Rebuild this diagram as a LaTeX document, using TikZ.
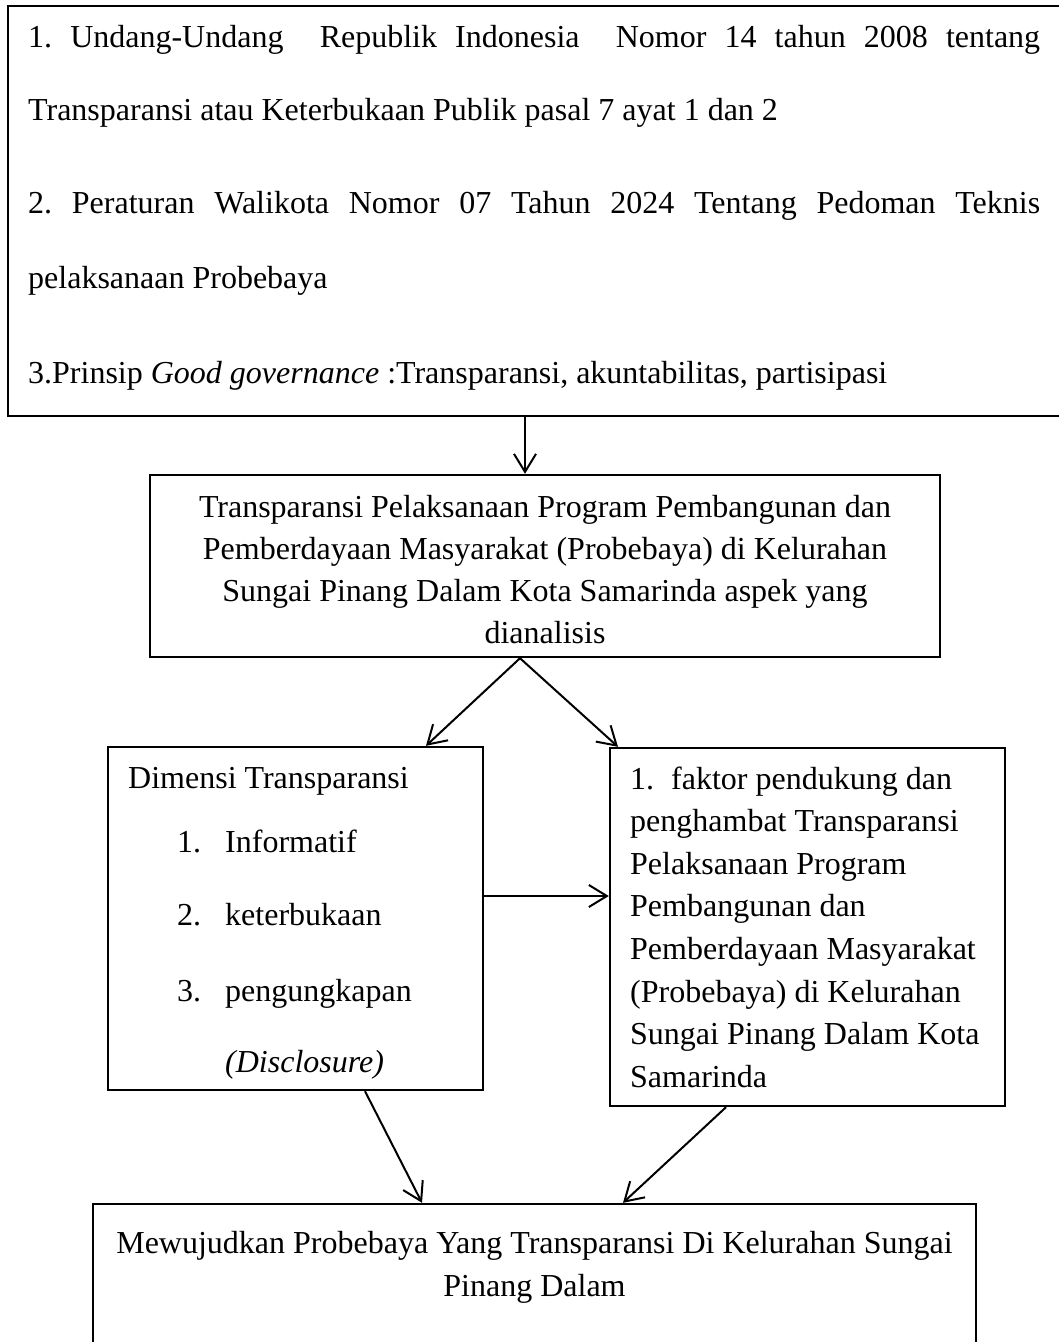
\documentclass[tikz,border=0pt]{standalone}
\usepackage{fontspec}
\setmainfont{Liberation Serif}
\usetikzlibrary{arrows.meta}
\frenchspacing
\begin{document}
\begin{tikzpicture}[x=1pt,y=-1pt,
  every node/.style={font=\fontsize{32}{38}\selectfont\frenchspacing, inner sep=0pt},
  box/.style={draw, line width=2.4pt, rectangle, minimum width=#1},
  arr/.style={line width=2pt, -{Straight Barb[length=18pt,width=22pt,line width=2pt]}},
  lt/.style={anchor=base west},
  ct/.style={anchor=base}]
\useasboundingbox (0,0) rectangle (1059,1342);

% boxes
\node[box=1062pt, minimum height=410pt] (top) at (539,211) {};
\node[box=790pt, minimum height=182pt] (mid) at (545,566) {};
\node[box=375pt, minimum height=343pt] (L) at (295.5,918.5) {};
\node[box=395pt, minimum height=358pt] (R) at (807.5,927) {};
\node[box=883pt, minimum height=156pt] (B) at (534.5,1282) {};

% top box text
\node[lt] (t1) at (28,47) {\makebox[1012pt][s]{1. Undang-Undang\ \ Republik Indonesia\ \ Nomor 14 tahun 2008 tentang}};
\node[lt] (t2) at (28,120) {Transparansi atau Keterbukaan Publik pasal 7 ayat 1 dan 2};
\node[lt] (t3) at (28,213) {\makebox[1012pt][s]{2. Peraturan Walikota Nomor 07 Tahun 2024 Tentang Pedoman Teknis}};
\node[lt] (t4) at (28,288) {pelaksanaan Probebaya};
\node[lt] (t5) at (28,383) {3.Prinsip \textit{Good governance} :Transparansi, akuntabilitas, partisipasi};

% mid box text
\node[ct] (m1) at (545,517) {Transparansi Pelaksanaan Program Pembangunan dan};
\node[ct] (m2) at (545,559) {Pemberdayaan Masyarakat (Probebaya) di Kelurahan};
\node[ct] (m3) at (545,601) {Sungai Pinang Dalam Kota Samarinda aspek yang};
\node[ct] (m4) at (545,643) {dianalisis};

% left box text
\node[lt] (l1) at (128,788) {Dimensi Transparansi};
\node[lt] (l2) at (177,852) {\makebox[48pt][l]{1.}Informatif};
\node[lt] (l3) at (177,925) {\makebox[48pt][l]{2.}keterbukaan};
\node[lt] (l4) at (177,1001) {\makebox[48pt][l]{3.}pengungkapan};
\node[lt] (l5) at (225,1072) {\textit{(Disclosure)}};

% right box text
\node[lt] (r1) at (630,789) {\makebox[41pt][l]{1.}faktor pendukung dan};
\node[lt] (r2) at (630,831.6) {penghambat Transparansi};
\node[lt] (r3) at (630,874.2) {Pelaksanaan Program};
\node[lt] (r4) at (630,916.8) {Pembangunan dan};
\node[lt] (r5) at (630,959.4) {Pemberdayaan Masyarakat};
\node[lt] (r6) at (630,1002) {(Probebaya) di Kelurahan};
\node[lt] (r7) at (630,1044.6) {Sungai Pinang Dalam Kota};
\node[lt] (r8) at (630,1087) {Samarinda};

% bottom box text
\node[ct] (b1) at (534.5,1253) {Mewujudkan Probebaya Yang Transparansi Di Kelurahan Sungai};
\node[ct] (b2) at (534.5,1296) {Pinang Dalam};

% connectors
\coordinate (a1) at ([xshift=-20pt]mid.north);
\draw[arr] (top.south -| a1) -- (a1);
\draw[arr] ([xshift=-25pt]mid.south) -- ([xshift=130.5pt]L.north);
\draw[arr] ([xshift=-25pt]mid.south) -- ([xshift=-189.5pt]R.north);
\coordinate (a4) at ([yshift=22.5pt]L.east);
\draw[arr] (a4) -- (a4 -| R.west);
\draw[arr] ([xshift=69.5pt]L.south) -- ([xshift=-112.5pt]B.north);
\draw[arr] ([xshift=-81.5pt]R.south) -- ([xshift=88.5pt]B.north);
\end{tikzpicture}
\end{document}
